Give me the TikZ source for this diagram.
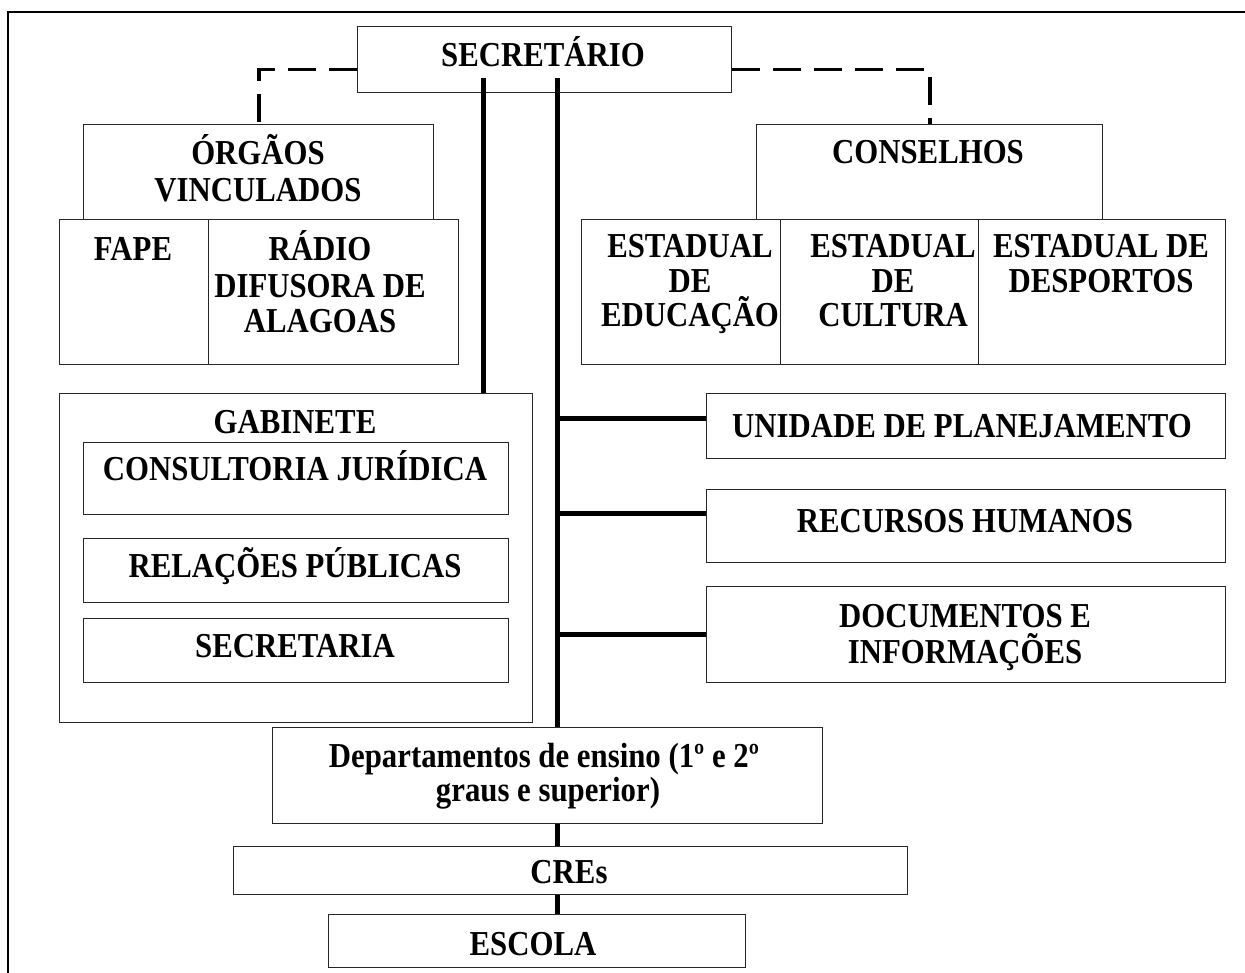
\documentclass[tikz,border=0pt]{standalone}
\usepackage{fontspec}
\newfontfamily\tf{Liberation Serif}[FakeStretch=0.88]
\tikzset{
  box/.style={draw=black!85, line width=1.2pt, fill=white, inner sep=0pt, anchor=north west},
  txt/.style={inner sep=0pt, anchor=base, font=\tf\bfseries\fontsize{35}{38}\selectfont},
  thickline/.style={line width=5pt, black},
  dashline/.style={line width=3.8pt, black, dash pattern=on 28pt off 13pt},
  frameline/.style={line width=2.5pt, black}
}
\newcommand\bx[5]{\node[box, minimum width={#4-#2}, minimum height={#5-#3}] (#1) at (#2,#3) {};}
\newcommand\tl[4]{\node[txt] (#1) at (#2,#3) {#4};}
\begin{document}
\begin{tikzpicture}[x=1pt,y=-1pt]
\useasboundingbox (0,0) rectangle (1245,973);
\clip (0,0) rectangle (1245,973);
\draw[frameline] (8,12) rectangle (1280,1000);
% boxes
\bx{sec}{357}{26}{731}{92}
\bx{org}{83}{124}{433}{219}
\bx{fape}{58.5}{219}{208}{364}
\bx{radio}{208}{219}{458}{364}
\bx{cons}{756}{124}{1102}{219}
\bx{edu}{581}{219}{780}{364}
\bx{cul}{780}{219}{978}{364}
\bx{des}{978}{219}{1225}{364}
\bx{gab}{58.5}{393}{532}{722}
\bx{cj}{83}{442}{508}{514}
\bx{rp}{83}{538}{508}{602}
\bx{secr}{83}{618}{508}{682}
\bx{unid}{706}{393}{1225}{458}
\bx{rh}{706}{489}{1225}{562}
\bx{doc}{706}{586}{1225}{682}
\bx{dep}{272}{727}{822}{823}
\bx{cres}{233}{846}{907}{894}
\bx{esc}{328}{914}{745}{967}
% texts
\tl{tsec}{543}{67}{SECRETÁRIO}
\tl{torg1}{258}{165}{ÓRGÃOS}
\tl{torg2}{258}{202}{VINCULADOS}
\tl{tfape}{133}{261}{FAPE}
\tl{trad1}{320}{261}{RÁDIO}
\tl{trad2}{320}{298}{DIFUSORA DE}
\tl{trad3}{320}{333}{ALAGOAS}
\tl{tcons}{928}{164}{CONSELHOS}
\tl{tedu1}{690}{258}{ESTADUAL}
\tl{tedu2}{690}{293}{DE}
\tl{tedu3}{690}{327}{EDUCAÇÃO}
\tl{tcul1}{893}{258}{ESTADUAL}
\tl{tcul2}{893}{293}{DE}
\tl{tcul3}{893}{327}{CULTURA}
\tl{tdes1}{1101}{258}{ESTADUAL DE}
\tl{tdes2}{1101}{293}{DESPORTOS}
\tl{tgab}{295}{433}{GABINETE}
\tl{tcj}{295}{480}{CONSULTORIA JURÍDICA}
\tl{trp}{295}{577}{RELAÇÕES PÚBLICAS}
\tl{tsecr}{295}{657}{SECRETARIA}
\tl{tunid}{962}{437}{UNIDADE DE PLANEJAMENTO}
\tl{trh}{965}{532}{RECURSOS HUMANOS}
\tl{tdoc1}{965}{627}{DOCUMENTOS E}
\tl{tdoc2}{965}{663}{INFORMAÇÕES}
\tl{tdep1}{544}{767}{Departamentos de ensino (1º e 2º}
\tl{tdep2}{548}{801}{graus e superior)}
\tl{tcres}{569}{883}{CREs}
\tl{tesc}{533}{955}{ESCOLA}
% dashed connectors
\coordinate (dl) at ([yshift=-10pt]sec.west);
\coordinate (dr) at ([yshift=-10pt]sec.east);
\draw[dashline] (dl) -| (org.north);
\draw[dashline] (dr) -| (cons.north);
% solid connectors
\coordinate (v1) at (483,78);
\coordinate (v2) at (557.5,78);
\draw[thickline] (v1) -- (v1 |- gab.north);
\draw[thickline] (v2) -- (v2 |- dep.north);
\coordinate (b1) at ([yshift=7.5pt]unid.west);
\coordinate (b2) at ([yshift=12.5pt]rh.west);
\coordinate (b3) at (doc.west);
\draw[thickline] (b1) -- (b1 -| v2);
\draw[thickline] (b2) -- (b2 -| v2);
\draw[thickline] (b3) -- (b3 -| v2);
\draw[thickline] (dep.south -| v2) -- (cres.north -| v2);
\draw[thickline] (cres.south -| v2) -- (esc.north -| v2);
\end{tikzpicture}
\end{document}
